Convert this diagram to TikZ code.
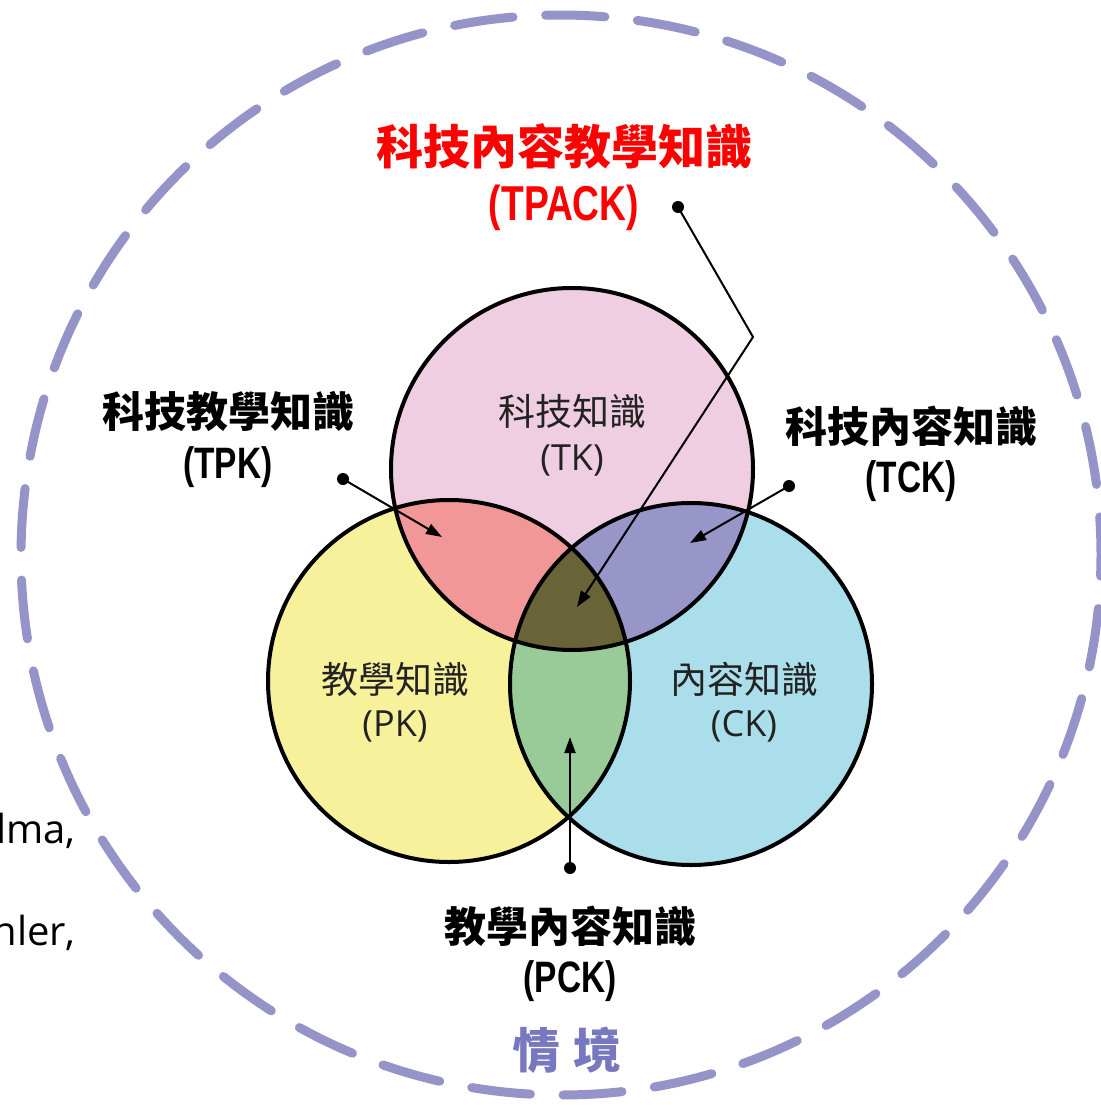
\documentclass[tikz,border=0pt]{standalone}
\usepackage{fontspec}
\usetikzlibrary{arrows.meta}
\newfontfamily\cjk{Noto Sans CJK TC}
\newfontfamily\latn{Open Sans}
\newfontfamily\narrowb{Liberation Sans}[FakeStretch=0.76]
\definecolor{tkc}{HTML}{F0CEE2}
\definecolor{pkc}{HTML}{F7F19C}
\definecolor{ckc}{HTML}{AADEEA}
\definecolor{tpkc}{HTML}{F29797}
\definecolor{tckc}{HTML}{9896C8}
\definecolor{pckc}{HTML}{99CB99}
\definecolor{tpackc}{HTML}{686438}
\definecolor{ringc}{HTML}{9494C8}
\definecolor{ctxc}{HTML}{7878C0}
\definecolor{labc}{HTML}{222222}
\begin{document}
\begin{tikzpicture}[x=1pt,y=-1pt,
  venn/.style={circle,draw=black,line width=4pt,minimum size=362pt,inner sep=0pt},
  dot/.style={circle,fill=black,inner sep=0pt,minimum size=12pt},
  conn/.style={line width=2pt,-{Triangle[length=16pt,width=11pt]}},
  inlab/.style={text=labc,inner sep=0pt,font=\cjk\fontsize{37pt}{40pt}\selectfont},
  inlat/.style={text=labc,inner sep=0pt,font=\latn\fontsize{36pt}{40pt}\selectfont},
  outlab/.style={text=black,inner sep=0pt,font=\cjk\bfseries\fontsize{42pt}{46pt}\selectfont},
  outlat/.style={text=black,inner sep=0pt,font=\narrowb\bfseries\fontsize{44pt}{48pt}\selectfont},
  sidetxt/.style={text=black,inner sep=0pt,font=\latn\fontsize{40pt}{44pt}\selectfont}
]
\useasboundingbox (0,0) rectangle (1100,1105);
\fill[white] (0,0) rectangle (1100,1105);

% context ring
\coordinate (ring) at (561,555);
\draw[ringc,line width=9pt,line cap=round,dash pattern=on 59pt off 32.7pt]
  (ring) ++(85.37:540pt) arc[start angle=85.37,end angle=445.37,radius=540pt];

% circle centres
\coordinate (TKc) at (572,469);
\coordinate (PKc) at (449,681);
\coordinate (CKc) at (691,684);

% fills
\fill[tkc] (TKc) circle[radius=181pt];
\fill[pkc] (PKc) circle[radius=181pt];
\fill[ckc] (CKc) circle[radius=181pt];
\begin{scope}
  \clip (TKc) circle[radius=181pt];
  \fill[tpkc] (PKc) circle[radius=181pt];
\end{scope}
\begin{scope}
  \clip (TKc) circle[radius=181pt];
  \fill[tckc] (CKc) circle[radius=181pt];
\end{scope}
\begin{scope}
  \clip (PKc) circle[radius=181pt];
  \fill[pckc] (CKc) circle[radius=181pt];
\end{scope}
\begin{scope}
  \clip (TKc) circle[radius=181pt];
  \clip (PKc) circle[radius=181pt];
  \fill[tpackc] (CKc) circle[radius=181pt];
\end{scope}

% outlines
\node[venn] (TK) at (TKc) {};
\node[venn] (PK) at (PKc) {};
\node[venn] (CK) at (CKc) {};

% inner labels
\node[inlab] (tk1) at (572,411) {科技知識};
\node[inlat] (tk2) at (572,460) {(TK)};
\node[inlab] (pk1) at (395,679) {教學知識};
\node[inlat] (pk2) at (395,726) {(PK)};
\node[inlab] (ck1) at (744,679) {內容知識};
\node[inlat] (ck2) at (744,726) {(CK)};

% outer labels
\node[text=red,inner sep=0pt,font=\cjk\bfseries\fontsize{47pt}{50pt}\selectfont] (tpack1) at (564,146) {科技內容教學知識};
\node[text=red,inner sep=0pt,font=\narrowb\bfseries\fontsize{49pt}{52pt}\selectfont] (tpack2) at (564,208) {(TPACK)};
\node[outlab] (tpk1) at (228,412) {科技教學知識};
\node[outlat] (tpk2) at (228,467) {(TPK)};
\node[outlab] (tck1) at (911,426) {科技內容知識};
\node[outlat] (tck2) at (911,481) {(TCK)};
\node[outlab] (pck1) at (570,926) {教學內容知識};
\node[outlat] (pck2) at (570,981) {(PCK)};
\node[text=ctxc,inner sep=0pt,font=\cjk\bfseries\fontsize{48pt}{50pt}\selectfont] (ctx) at (567,1050) {情\hspace{14pt}境};

% clipped side text
\node[sidetxt,anchor=base east] (side1) at (76,843) {lma,};
\node[sidetxt,anchor=base east] (side2) at (76,945) {hler,};

% connectors
\node[dot] (dTPACK) at (678,207) {};
\node[dot] (dTPK) at (343,479) {};
\node[dot] (dTCK) at (789,486) {};
\node[dot] (dPCK) at (570,868) {};
\coordinate (bend) at (753,337);
\coordinate (aTPACK) at (577,607);
\coordinate (aTPK) at (442,537);
\coordinate (aTCK) at (690,543);
\coordinate (aPCK) at (570,737);
\draw[conn] (dTPACK.center) -- (bend) -- (aTPACK);
\draw[conn] (dTPK.center) -- (aTPK);
\draw[conn] (dTCK.center) -- (aTCK);
\draw[conn] (dPCK.center) -- (aPCK);
\end{tikzpicture}
\end{document}
